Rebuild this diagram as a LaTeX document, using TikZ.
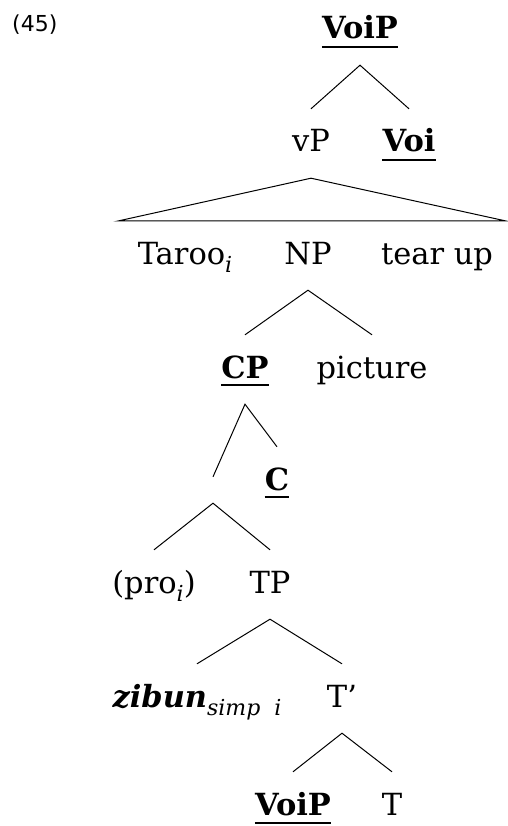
\documentclass[tikz,border=0pt]{standalone}
\usepackage{fontspec}
\setmainfont{DejaVu Serif}
\newfontfamily\numfont{DejaVu Sans}
\newcommand\lsub[1]{\raisebox{-8pt}{\fontsize{22}{22}\selectfont\itshape\mdseries #1}}
\tikzset{
  lab/.style={anchor=base, font=\fontsize{30.5}{36}\selectfont, inner xsep=0pt, inner ysep=19pt, text height=24pt, text depth=7pt},
  br/.style={line width=1pt},
  ulline/.style={line width=1.6pt},
}
\begin{document}
\begin{tikzpicture}[x=1pt,y=-1pt]
\useasboundingbox (0,0) rectangle (507,826);
\node[anchor=base west, inner sep=0pt, font=\numfont\fontsize{22}{26}\selectfont] (ex) at (12,32) {(45)};
% nodes
\node[lab] (top) at (360,39) {\bfseries VoiP};
\node[lab] (vp) at (311,152) {vP};
\node[lab] (voi) at (409,152) {\bfseries Voi};
\node[lab] (taroo) at (185,264) {Taroo\lsub{i}};
\node[lab] (np) at (308,264) {NP};
\node[lab] (tear) at (437,264) {tear up};
\node[lab] (cp) at (245,378) {\bfseries CP};
\node[lab] (pic) at (372,378) {picture};
\node[lab] (c) at (277,490) {\bfseries C};
\node[inner sep=0pt, minimum height=26pt, minimum width=0pt] (e) at (213,490) {};
\node[lab] (pro) at (154,593) {(pro\lsub{i})};
\node[lab] (tp) at (270,593) {TP};
\node[lab] (zib) at (197,707) {\bfseries\itshape zibun\lsub{simp\ \ i}};
\node[lab] (tbar) at (342,707) {T’};
\node[lab] (voip) at (293,815) {\bfseries VoiP};
\node[lab] (t) at (392,815) {T};
\coordinate (bl) at (118,221);
\coordinate (brr) at (506,221);
% underlines
\foreach \n/\d in {top/8, voi/8, cp/7, c/7, voip/8} {
  \draw[ulline] ([yshift=-\d pt]\n.base west) -- ([yshift=-\d pt]\n.base east);
}
% branches
\draw[br] (vp.north) -- (top.south) -- (voi.north);
\draw[br] (vp.south) -- (bl) -- (brr) -- cycle;
\draw[br] (cp.north) -- (np.south) -- (pic.north);
\draw[br] (e.north) -- (cp.south) -- (c.north);
\draw[br] (pro.north) -- (e.south) -- (tp.north);
\draw[br] (zib.north) -- (tp.south) -- (tbar.north);
\draw[br] (voip.north) -- (tbar.south) -- (t.north);
\end{tikzpicture}
\end{document}
